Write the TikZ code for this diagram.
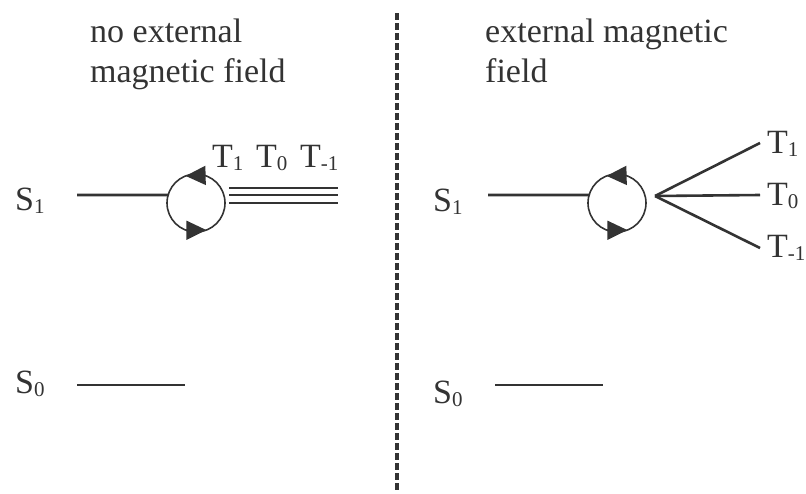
\documentclass[tikz,border=0pt]{standalone}
\usepackage{fontspec}
\setmainfont{Liberation Serif}
\usetikzlibrary{arrows.meta}
\definecolor{ink}{HTML}{333333}
\newcommand{\lvlname}[2]{#1\raisebox{-3.5pt}{\fontsize{21}{21}\selectfont #2}}

\begin{document}
\begin{tikzpicture}[x=1pt, y=-1pt, ink,
  every node/.style={font=\fontsize{34}{40}\selectfont, inner sep=0pt, text=ink},
  level/.style={line width=2.6pt},
  loopcirc/.style={circle, draw, line width=1.6pt, minimum size=58pt, inner sep=0pt, outer sep=0pt},
  turn/.style={line width=1.6pt, -{Triangle[length=20pt,width=19pt]}}]

\useasboundingbox (0,0) rectangle (806,493);

% Divider
\coordinate (dtop) at (397,13);
\coordinate (dbot) at (397,493);
\draw[line width=3.5pt, dash pattern=on 7pt off 3pt] (dtop) -- (dbot);

% Headings
\node[anchor=base west] (hleft) at (90,42) {no external};
\node[anchor=base west] (hleft2) at (90,82) {magnetic field};
\node[anchor=base west] (hright) at (485,42) {external magnetic};
\node[anchor=base west] (hright2) at (485,82) {field};

% Left panel: no field
\node[anchor=base west] (s1l) at (15,210) {\lvlname{S}{1}};
\node[anchor=base west] (s0l) at (15,393) {\lvlname{S}{0}};
\coordinate (s1la) at (77,195);
\coordinate (s0la) at (77,385);
\coordinate (s0lb) at (185,385);
\node[loopcirc] (cl) at (196,203) {};
\draw[level] (s1la) -- (cl.164);
\draw[level] (s0la) -- (s0lb);
\draw[turn] (cl.72) -- (cl.111);
\draw[turn] (cl.250) -- (cl.291);

% degenerate triplet
\foreach \y in {188,195,203}
  \draw[line width=2.3pt] (229,\y) -- (338,\y);
\node[anchor=base west] (t1l) at (212,167) {\lvlname{T}{1}};
\node[anchor=base west] (t0l) at (256,167) {\lvlname{T}{0}};
\node[anchor=base west] (tml) at (300,167) {\lvlname{T}{-1}};

% Right panel: field on
\node[anchor=base west] (s1r) at (433,211) {\lvlname{S}{1}};
\node[anchor=base west] (s0r) at (433,403) {\lvlname{S}{0}};
\coordinate (s1ra) at (488,195);
\coordinate (s0ra) at (495,385);
\coordinate (s0rb) at (603,385);
\node[loopcirc] (cr) at (617,203) {};
\draw[level] (s1ra) -- (cr.164);
\draw[level] (s0ra) -- (s0rb);
\draw[turn] (cr.72) -- (cr.111);
\draw[turn] (cr.250) -- (cr.291);

% split triplet
\coordinate (fan) at (655,196);
\coordinate (e1) at (760,143);
\coordinate (e0) at (760,195);
\coordinate (em) at (760,248);
\draw[level] (fan) -- (e1);
\draw[level] (fan) -- (e0);
\draw[level] (fan) -- (em);
\node[anchor=base west] (t1r) at (767,153) {\lvlname{T}{1}};
\node[anchor=base west] (t0r) at (767,205) {\lvlname{T}{0}};
\node[anchor=base west] (tmr) at (767,257) {\lvlname{T}{-1}};

\end{tikzpicture}
\end{document}
